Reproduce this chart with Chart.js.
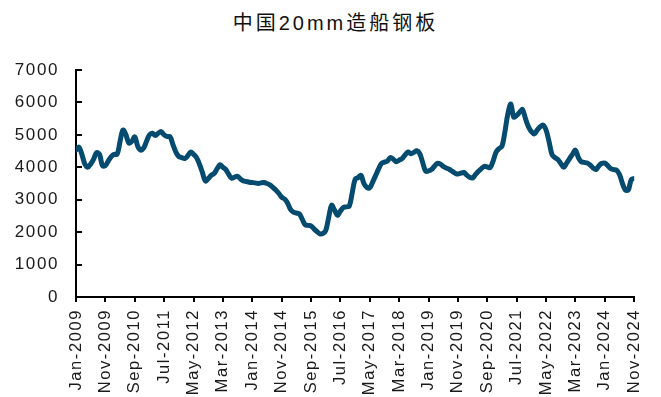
<!DOCTYPE html>
<html>
<head>
<meta charset="utf-8">
<script src="https://cdn.jsdelivr.net/npm/chart.js@4"></script>
<style>
  html, body { margin: 0; padding: 0; background: #fff; }
  #wrap { position: relative; width: 661px; height: 397px; }
  #title {
    position: absolute; left: 0; top: 7px; width: 661px; text-align: center;
    font-family: "Liberation Sans", "Noto Sans CJK SC", sans-serif;
    font-size: 20px; letter-spacing: 3px; color: #111; padding-left: 10px; box-sizing: border-box;
  }
  canvas { position: absolute; left: 0; top: 0; }
</style>
</head>
<body>
<div id="wrap">
  <div id="title">中国20mm造船钢板</div>
  <canvas id="c" width="661" height="397"></canvas>
</div>
<script>
// Monthly price, Jan-2009 .. Nov-2024 (191 months)
const prices = [
  4530, 4620, 4400, 4100, 4000, 4100, 4250, 4450, 4400, 4050, 4050, 4200,
  4330, 4400, 4400, 4800, 5150, 5000, 4750, 4800, 4940, 4650, 4530, 4590,
  4800, 5000, 5050, 4980, 5050, 5100, 5000, 4950, 4940, 4700, 4470, 4330,
  4300, 4270, 4350, 4470, 4400, 4300, 4100, 3850, 3580, 3650, 3750, 3810,
  3950, 4080, 4000, 3930, 3780, 3660, 3700, 3720, 3640, 3580, 3560, 3540,
  3530, 3520, 3500, 3520, 3530, 3500, 3460, 3380, 3300, 3200, 3080, 3020,
  2900, 2700, 2620, 2590, 2570, 2400, 2230, 2210, 2190, 2100, 2020, 1950,
  1960, 2050, 2450, 2830, 2680, 2520, 2650, 2760, 2780, 2800, 3200, 3630,
  3680, 3750, 3500, 3380, 3370, 3550, 3750, 3950, 4120, 4160, 4190, 4300,
  4250, 4170, 4220, 4270, 4380, 4470, 4420, 4460, 4510, 4420, 4150, 3880,
  3890, 3930, 4030, 4120, 4100, 4030, 3980, 3940, 3880, 3820, 3790, 3820,
  3840, 3760, 3690, 3670, 3780, 3880, 3960, 4030, 4010, 3990, 4200, 4470,
  4580, 4650, 5100, 5650, 5950, 5550, 5600, 5700, 5780, 5500, 5250, 5100,
  5030, 5150, 5250, 5300, 5150, 4800, 4400, 4300, 4240, 4120, 4000, 4130,
  4270, 4400, 4530, 4300, 4170, 4150, 4130, 4070, 3980, 3930, 4050, 4120,
  4130, 4050, 3960, 3930, 3910, 3780, 3500, 3300, 3300, 3620, 3650
];

// Axis labels shown every 10 months
const tickLabels = [
  'Jan-2009', 'Nov-2009', 'Sep-2010', 'Jul-2011', 'May-2012', 'Mar-2013',
  'Jan-2014', 'Nov-2014', 'Sep-2015', 'Jul-2016', 'May-2017', 'Mar-2018',
  'Jan-2019', 'Nov-2019', 'Sep-2020', 'Jul-2021', 'May-2022', 'Mar-2023',
  'Jan-2024', 'Nov-2024'
];
const tickStep = 10;
const yTicks = [0, 1000, 2000, 3000, 4000, 5000, 6000, 7000];

const points = prices.map((v, i) => ({ x: i, y: v }));

// Slightly widened lettering for axis text
const spacing = {
  id: 'spacing',
  beforeDraw(chart) { chart.ctx.letterSpacing = '1.6px'; }
};

new Chart(document.getElementById('c'), {
  type: 'line',
  data: {
    datasets: [{
      data: points,
      borderColor: '#054b6f',
      borderWidth: 5,
      borderCapStyle: 'round',
      borderJoinStyle: 'round',
      pointRadius: 0,
      tension: 0.35,
      fill: false
    }]
  },
  options: {
    responsive: false,
    animation: false,
    events: [],
    layout: { padding: { top: 70, right: 25, left: 0, bottom: 0 } },
    plugins: { legend: { display: false }, tooltip: { enabled: false }, title: { display: false } },
    scales: {
      x: {
        type: 'linear',
        min: 0,
        max: prices.length - 1,
        afterBuildTicks(scale) {
          scale.ticks = tickLabels.map((_, k) => ({ value: k * tickStep }));
        },
        afterFit(scale) { scale.height = 100; },
        border: { display: true, color: '#000', width: 2 },
        grid: { drawOnChartArea: false, drawTicks: true, tickLength: 5, color: '#000', lineWidth: 2 },
        ticks: {
          autoSkip: false,
          maxRotation: 90,
          minRotation: 90,
          padding: 7,
          color: '#1a1a1a',
          font: { family: 'Liberation Sans', size: 16.5 },
          callback: (v) => tickLabels[Math.round(v / tickStep)]
        }
      },
      y: {
        min: 0,
        max: 7000,
        afterBuildTicks(scale) {
          scale.ticks = yTicks.map(v => ({ value: v }));
        },
        afterFit(scale) { scale.width = 76; },
        border: { display: true, color: '#000', width: 2 },
        grid: { drawOnChartArea: false, drawTicks: true, tickLength: -6, color: '#000', lineWidth: 2 },
        ticks: {
          padding: 23,
          color: '#1a1a1a',
          font: { family: 'Liberation Sans', size: 17 },
          callback: (v) => String(v)
        }
      }
    }
  },
  plugins: [spacing]
});
</script>
</body>
</html>
